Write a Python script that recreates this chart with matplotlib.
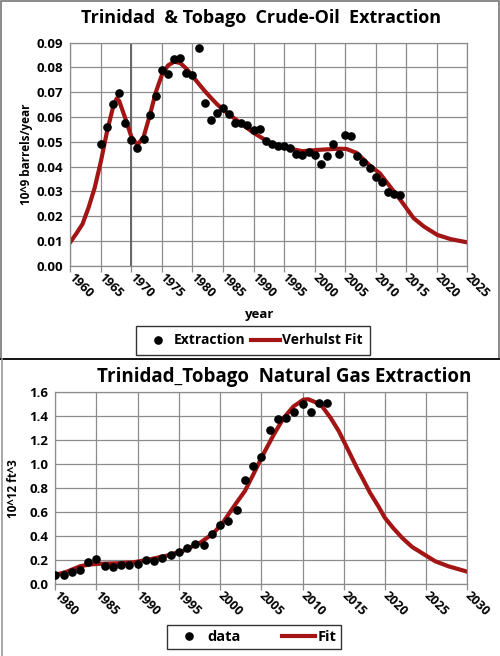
import numpy as np
import matplotlib
matplotlib.use("Agg")
import matplotlib.pyplot as plt
from matplotlib.lines import Line2D

plt.rcParams['font.family'] = ['Open Sans', 'DejaVu Sans']
plt.rcParams['font.weight'] = 'bold'

# crude oil extraction data (10^9 barrels/year)
oil_years = list(range(1965, 2015))
oil_vals = [0.0493, 0.0559, 0.0653, 0.0698, 0.0574, 0.0509, 0.0474, 0.0512, 0.0607, 0.0683,
            0.0790, 0.0775, 0.0833, 0.0837, 0.0779, 0.0771, 0.0877, 0.0656, 0.0586, 0.0618,
            0.0637, 0.0614, 0.0574, 0.0576, 0.0567, 0.0547, 0.0553, 0.0502, 0.0493, 0.0482,
            0.0483, 0.0474, 0.0449, 0.0445, 0.0457, 0.0445, 0.0412, 0.0444, 0.0491, 0.0449,
            0.0526, 0.0522, 0.0444, 0.0419, 0.0394, 0.0358, 0.0337, 0.0298, 0.0289, 0.0287]

# Verhulst fit
oil_fit_years = [1960, 1961, 1962, 1963, 1964, 1965, 1966, 1967, 1967.6, 1968, 1969, 1970,
                 1971, 1972, 1973, 1974, 1975, 1976, 1977, 1978, 1979, 1980, 1981, 1982,
                 1983, 1984, 1985, 1987, 1990, 1992.7, 1995.4, 1998, 2001, 2004, 2005.2,
                 2006.9, 2009, 2010.7, 2012.3, 2014, 2015, 2016.2, 2017.9, 2020.1, 2022.3, 2025]
oil_fit_vals = [0.0095, 0.0130, 0.0168, 0.0235, 0.0315, 0.0420, 0.0540, 0.0640, 0.0675, 0.0665,
                0.0595, 0.0520, 0.0487, 0.0520, 0.0605, 0.0700, 0.0770, 0.0808, 0.0823, 0.0818,
                0.0795, 0.0765, 0.0735, 0.0705, 0.0678, 0.0652, 0.0630, 0.0592, 0.0536, 0.0496,
                0.0475, 0.0462, 0.0468, 0.0472, 0.0471, 0.0455, 0.0405, 0.0372, 0.0321, 0.0267,
                0.0233, 0.0192, 0.0158, 0.0124, 0.0107, 0.0094]

# natural gas extraction data (10^12 ft^3)
gas_years = list(range(1980, 2014))
gas_vals = [0.075, 0.075, 0.100, 0.122, 0.186, 0.211, 0.150, 0.142, 0.158, 0.163,
            0.169, 0.200, 0.194, 0.222, 0.247, 0.267, 0.305, 0.333, 0.328, 0.419,
            0.497, 0.530, 0.615, 0.869, 0.986, 1.063, 1.286, 1.377, 1.383, 1.433,
            1.500, 1.433, 1.505, 1.508]

gas_fit_years = [1980, 1981.4, 1983, 1984.2, 1985.2, 1987.5, 1989.5, 1991.5, 1993.5, 1995.5,
                 1997.6, 1999.2, 2000.4, 2002, 2003, 2004, 2005.2, 2006.5, 2007.7, 2008.9,
                 2010.1, 2010.7, 2012.2, 2013.4, 2014.4, 2015, 2015.8, 2016.6, 2017.4, 2018.2,
                 2019.2, 2020, 2021, 2022.1, 2023.3, 2024.8, 2026.1, 2027.7, 2030]
gas_fit_vals = [0.078, 0.105, 0.150, 0.165, 0.170, 0.175, 0.183, 0.208, 0.238, 0.278,
                0.347, 0.425, 0.520, 0.680, 0.775, 0.910, 1.077, 1.244, 1.383, 1.480,
                1.536, 1.540, 1.497, 1.386, 1.275, 1.192, 1.081, 0.969, 0.867, 0.761,
                0.650, 0.553, 0.469, 0.386, 0.311, 0.247, 0.192, 0.150, 0.105]

RED = '#a31515'
GRID = '#8c8c8c'

fig = plt.figure(figsize=(5.0, 6.56), dpi=100)

# panel frames
fig.add_artist(plt.Rectangle((0.002, 0.452), 0.996, 0.546, transform=fig.transFigure,
                             fill=False, edgecolor='#777777', lw=1.2))
fig.add_artist(Line2D([0, 1], [0.453, 0.453], transform=fig.transFigure, color='black', lw=1.2))
fig.add_artist(Line2D([0.004, 0.004], [0.0, 0.452], transform=fig.transFigure, color='#999999', lw=1.2))


def style_axes(ax):
    ax.grid(True, color=GRID, lw=0.9)
    ax.set_axisbelow(True)
    for s in ax.spines.values():
        s.set_color(GRID)
        s.set_linewidth(0.9)
    ax.tick_params(axis='x', length=4, color=GRID, width=0.9, labelsize=9, pad=3)
    ax.tick_params(axis='y', length=0, labelsize=9.5, pad=5)
    for lab in ax.get_xticklabels():
        lab.set_rotation(-45)
        lab.set_ha('left')
        lab.set_va('center')
        lab.set_rotation_mode('anchor')
        lab.set_fontweight('bold')
    for lab in ax.get_yticklabels():
        lab.set_fontweight('bold')


# top chart: crude oil
ax1 = fig.add_axes([0.1406, 0.595, 0.794, 0.340])
ax1.set_xlim(1960, 2025)
ax1.set_ylim(0, 0.09)
ax1.set_xticks(np.arange(1960, 2026, 5))
ax1.set_yticks(np.arange(0, 0.0901, 0.01))
ax1.set_yticklabels([f"{v:.2f}" for v in np.arange(0, 0.0901, 0.01)])
ax1.axvline(1970, color='#666666', lw=1.4, zorder=1)
ax1.plot(oil_fit_years, oil_fit_vals, color=RED, lw=3, zorder=2, label='Verhulst Fit',
         solid_joinstyle='round')
ax1.plot(oil_years, oil_vals, 'o', color='black', ms=5.2, zorder=3, label='Extraction')
style_axes(ax1)
ax1.set_ylabel('10^9 barrels/year', fontsize=8.5, fontweight='bold', labelpad=3)
fig.text(0.52, 0.52, 'year', ha='center', va='center', fontsize=9.5, fontweight='bold')
h, l = ax1.get_legend_handles_labels()
leg1 = fig.legend([h[1], h[0]], [l[1], l[0]], loc='center', bbox_to_anchor=(0.506, 0.481),
                  ncol=2, frameon=True, fancybox=False, edgecolor='black',
                  handlelength=2.1, columnspacing=0.4, handletextpad=0.1, borderpad=0.55,
                  prop={'weight': 'bold', 'size': 10})
leg1.get_frame().set_linewidth(1.0)
fig.text(0.523, 0.9726, 'Trinidad  & Tobago  Crude-Oil  Extraction', ha='center', va='center',
         fontsize=13, fontweight='bold')

# bottom chart: natural gas
ax2 = fig.add_axes([0.1106, 0.1093, 0.824, 0.2931])
ax2.set_xlim(1980, 2030)
ax2.set_ylim(0, 1.6)
ax2.set_xticks(np.arange(1980, 2031, 5))
ax2.set_yticks(np.arange(0, 1.61, 0.2))
ax2.set_yticklabels([f"{v:.1f}" for v in np.arange(0, 1.61, 0.2)])
ax2.plot(gas_fit_years, gas_fit_vals, color=RED, lw=3, zorder=2, label='Fit',
         solid_joinstyle='round')
ax2.plot(gas_years, gas_vals, 'o', color='black', ms=5.2, zorder=3, label='data')
style_axes(ax2)
ax2.set_ylabel('10^12 ft^3', fontsize=8.5, fontweight='bold', labelpad=7)
h, l = ax2.get_legend_handles_labels()
leg2 = fig.legend([h[1], h[0]], [l[1], l[0]], loc='center', bbox_to_anchor=(0.508, 0.0287),
                  ncol=2, frameon=True, fancybox=False, edgecolor='black',
                  handlelength=2.3, columnspacing=2.8, handletextpad=0.15, borderpad=0.35,
                  prop={'weight': 'bold', 'size': 10.5})
leg2.get_frame().set_linewidth(1.0)
fig.text(0.568, 0.4258, 'Trinidad_Tobago  Natural Gas Extraction', ha='center', va='center',
         fontsize=13.5, fontweight='bold')

fig.savefig('out.png', dpi=100)
